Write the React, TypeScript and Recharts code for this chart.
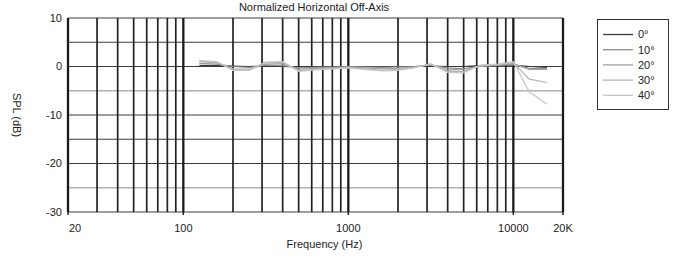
import React from 'react';
import { LineChart, Line, XAxis, YAxis, ReferenceLine, Label } from 'recharts';

const frequencies = [125, 160, 200, 250, 315, 400, 500, 630, 800, 1000, 1250, 1600, 2000, 2500, 3150, 4000, 5000, 6300, 8000, 10000, 12500, 16000];
const deg0 = [0.2, 0.2, 0.1, 0.0, 0.1, 0.0, -0.1, 0.0, 0.0, 0.0, 0.0, 0.0, 0.0, 0.0, 0.1, 0.0, 0.0, 0.2, 0.3, 0.3, 0.0, -0.2];
const deg10 = [0.6, 0.5, 0.0, -0.2, 0.3, 0.2, -0.3, -0.2, -0.1, 0.0, -0.1, -0.2, -0.1, 0.0, 0.3, -0.3, -0.5, 0.1, 0.2, 0.4, -0.4, -0.5];
const deg20 = [1.0, 0.8, -0.5, -0.6, 0.5, 0.6, -0.6, -0.4, -0.3, -0.1, -0.3, -0.5, -0.4, -0.1, 0.4, -0.7, -0.6, 0.0, 0.3, 0.6, -0.6, -0.6];
const deg30 = [1.1, 0.9, -0.7, -0.7, 0.8, 0.9, -0.9, -0.6, -0.4, -0.2, -0.5, -0.8, -0.6, -0.2, 0.5, -1.0, -1.0, 0.2, 0.4, 0.8, -2.6, -3.3];
const deg40 = [1.2, 1.0, -0.8, -0.8, 0.9, 1.0, -1.0, -0.7, -0.5, -0.3, -0.6, -0.9, -0.8, -0.3, 0.6, -1.2, -1.3, 0.3, 0.5, 1.0, -5.2, -7.8];

const seriesNames = ['0°', '10°', '20°', '30°', '40°'];
const seriesKeys = ['d0', 'd10', 'd20', 'd30', 'd40'];
const seriesValues = [deg0, deg10, deg20, deg30, deg40];
const seriesColors = ['#3a3a3a', '#8e8e8e', '#a2a2a2', '#b4b4b4', '#c6c6c6'];

const xTicks = [20, 100, 1000, 10000, 20000];
const xTickLabels = ['20', '100', '1000', '10000', '20K'];
const yTicks = [10, 0, -10, -20, -30];
const majorFreqs = [20, 100, 1000, 10000, 20000];
const minorFreqs = [30, 40, 50, 60, 70, 80, 90, 200, 300, 400, 500, 600, 700, 800, 900, 2000, 3000, 4000, 5000, 6000, 7000, 8000, 9000];
const darkLevels = [10, 5, 0, -10, -15, -20, -30];
const lightLevels = [-5, -25];

const title = 'Normalized Horizontal Off-Axis';
const xTitle = 'Frequency (Hz)';
const yTitle = 'SPL (dB)';

const data = frequencies.map((f, i) => {
  const row: Record<string, number> = { freq: f };
  seriesKeys.forEach((k, j) => {
    row[k] = seriesValues[j][i];
  });
  return row;
});

const FONT = '"Liberation Sans", Arial, Helvetica, sans-serif';

const XTick = (props: any) => {
  const { x, y, payload } = props;
  const i = xTicks.indexOf(payload.value);
  const dx = payload.value === 20 ? 7 : 0;
  return (
    <text x={x + dx} y={y} dy="0.71em" textAnchor="middle" fontSize={11} fill="#222" fontFamily={FONT}>
      {xTickLabels[i]}
    </text>
  );
};

const YTick = (props: any) => {
  const { x, y, payload } = props;
  return (
    <text x={x} y={y} dy="0.355em" textAnchor="end" fontSize={11} fill="#222" fontFamily={FONT}>
      {payload.value}
    </text>
  );
};

export default function App() {
  return (
    <div style={{ position: 'absolute', left: 0, top: 0, width: 678, height: 259, background: '#fff', fontFamily: FONT }}>
      <div
        style={{
          position: 'absolute',
          left: 0,
          top: 1,
          width: 628,
          textAlign: 'center',
          fontSize: 11,
          color: '#222',
          lineHeight: '13px',
        }}
      >
        {title}
      </div>
      <LineChart width={678} height={259} data={data} margin={{ top: 18, right: 115, bottom: 0, left: 0 }}>
        {darkLevels.map((v) => (
          <ReferenceLine key={'h' + v} y={v} stroke="#3c3c3c" strokeWidth={1} />
        ))}
        {lightLevels.map((v) => (
          <ReferenceLine key={'l' + v} y={v} stroke="#b0b0b0" strokeWidth={1.6} />
        ))}
        {minorFreqs.map((f) => (
          <ReferenceLine key={'v' + f} x={f} stroke="#222" strokeWidth={1.7} />
        ))}
        {majorFreqs.map((f) => (
          <ReferenceLine key={'m' + f} x={f} stroke="#1a1a1a" strokeWidth={2.3} />
        ))}
        <XAxis
          dataKey="freq"
          type="number"
          scale="log"
          domain={[20, 20000]}
          ticks={xTicks}
          interval={0}
          allowDataOverflow
          height={47}
          axisLine={false}
          tickLine={{ stroke: '#222', strokeWidth: 1.5 }}
          tickSize={3}
          tickMargin={9}
          tick={<XTick />}
        >
          <Label
            content={(p: any) => {
              const vb = p.viewBox || { x: 68, y: 212, width: 495, height: 47 };
              return (
                <text x={vb.x + vb.width / 2 + 9} y={vb.y + 28} dy="0.71em" textAnchor="middle" fontSize={11} fill="#222" fontFamily={FONT}>
                  {xTitle}
                </text>
              );
            }}
          />
        </XAxis>
        <YAxis
          type="number"
          domain={[-30, 10]}
          ticks={yTicks}
          interval={0}
          width={68}
          axisLine={false}
          tickLine={false}
          tickSize={0}
          tickMargin={6}
          tick={<YTick />}
        >
          <Label
            content={(p: any) => {
              const vb = p.viewBox || { x: 0, y: 18, width: 68, height: 194 };
              const cx = vb.x + 17;
              const cy = vb.y + vb.height / 2;
              return (
                <text x={cx} y={cy} textAnchor="middle" dominantBaseline="central" fontSize={11} fill="#222" fontFamily={FONT} transform={`rotate(90 ${cx} ${cy})`}>
                  {yTitle}
                </text>
              );
            }}
          />
        </YAxis>
        {seriesKeys.map((k, j) => (
          <Line
            key={k}
            type="linear"
            dataKey={k}
            name={seriesNames[j]}
            stroke={seriesColors[j]}
            strokeWidth={1.2}
            dot={false}
            activeDot={false}
            isAnimationActive={false}
          />
        ))}
      </LineChart>
      <div
        style={{
          position: 'absolute',
          left: 597,
          top: 19,
          width: 70,
          height: 89,
          border: '1px solid #333',
          borderLeftWidth: 1.5,
          borderRightWidth: 1.5,
          background: '#fff',
        }}
      >
        <svg width={70} height={89} style={{ display: 'block' }}>
          {seriesNames.map((n, j) => {
            const cy = 14.5 + j * 15.2;
            return (
              <g key={n}>
                <line x1={5} x2={35} y1={cy} y2={cy} stroke={seriesColors[j]} strokeWidth={1.3} />
                <text x={40} y={cy} dy="0.355em" fontSize={11} fill="#222" fontFamily={FONT}>
                  {n}
                </text>
              </g>
            );
          })}
        </svg>
      </div>
    </div>
  );
}
